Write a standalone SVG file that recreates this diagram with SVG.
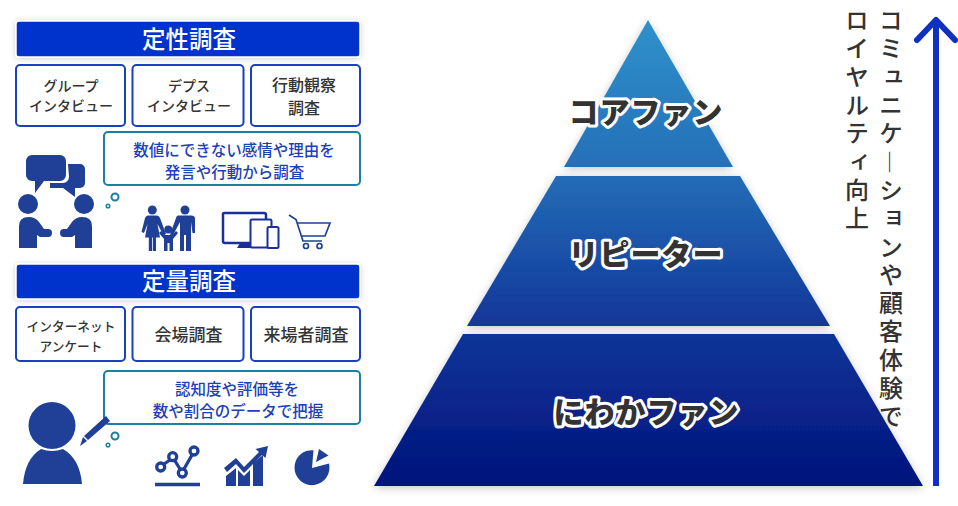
<svg xmlns="http://www.w3.org/2000/svg" width="958" height="506" viewBox="0 0 958 506">
<style>
text{font-family:"Noto Sans CJK JP","Noto Sans",sans-serif;text-anchor:middle}
.hd{fill:#0033cc;stroke:#fff;stroke-width:1.5;filter:url(#s)}
.hdt{fill:#fff;font-size:23.5px;font-weight:500}
.bx{fill:#fff;stroke:#1a3fc0;stroke-width:2}
.bt{fill:#333;font-weight:500}
.sb{fill:#fff;stroke:#1a7fa0;stroke-width:2}
.st{fill:#1c40b8;font-size:15.5px;font-weight:500}
.ic{fill:#1f4096}
.ring{fill:none;stroke:#1a7fa0}
.pl{font-size:30px;font-weight:900;fill:#333;stroke:#fff;stroke-width:6px;stroke-linejoin:round;paint-order:stroke fill}
.vt{font-size:24px;font-weight:500;fill:#333;writing-mode:vertical-rl;text-anchor:start;letter-spacing:4.3px}
</style>
<defs>
<filter id="s" x="-10%" y="-20%" width="120%" height="150%"><feDropShadow dx="0" dy="1" stdDeviation="3" flood-color="#000" flood-opacity=".18"/></filter>
<filter id="p" x="-10%" y="-10%" width="120%" height="120%"><feDropShadow dx="0" dy="2" stdDeviation="4" flood-color="#000" flood-opacity=".22"/></filter>
<linearGradient id="g" gradientUnits="userSpaceOnUse" x1="0" y1="20" x2="0" y2="486">
<stop offset="0" stop-color="#3091cb"/><stop offset=".32" stop-color="#246fb8"/><stop offset=".65" stop-color="#12379a"/><stop offset="1" stop-color="#00137c"/>
</linearGradient>
</defs>
<g id="pyramid">
<g id="tier-core"><path d="M648 20L733 167H564Z" fill="url(#g)" filter="url(#p)"/><text class="pl" x="646" y="123" letter-spacing="1">コアファン</text></g>
<g id="tier-repeater"><path d="M556 176H740L830 326H467Z" fill="url(#g)" filter="url(#p)"/><text class="pl" x="646" y="265" letter-spacing="1">リピーター</text></g>
<g id="tier-casual"><path d="M463 334H834L923 486H374Z" fill="url(#g)" filter="url(#p)"/><text class="pl" x="646.5" y="423" letter-spacing="1">にわかファン</text></g>
</g>
<g id="labels-vertical">
<text class="vt" x="891" y="8">コミュニケ<tspan font-weight="300">―</tspan>ションや顧客体験で</text>
<text class="vt" x="857" y="8">ロイヤルティ向上</text>
</g>
<g id="connectors">
<path d="M936 486V20" fill="none" stroke="#1030c0" stroke-width="6"/>
<path d="M917 40L936 20L955 40" fill="none" stroke="#1030c0" stroke-width="6" stroke-linecap="round" stroke-linejoin="round"/>
</g>
<g id="qual-head"><rect class="hd" x="16" y="21" width="344" height="36" rx="3"/><text class="hdt" x="189" y="47.500">定性調査</text></g>
<g id="qual-group"><rect class="bx" x="16" y="65" width="109" height="61" rx="4"/><text class="bt" font-size="14" x="71" y="91">グループ</text><text class="bt" font-size="14" x="71" y="111">インタビュー</text></g>
<g id="qual-depth"><rect class="bx" x="132.500" y="65" width="111" height="61" rx="4"/><text class="bt" font-size="14" x="189" y="91">デプス</text><text class="bt" font-size="14" x="189" y="111">インタビュー</text></g>
<g id="qual-obs"><rect class="bx" x="251" y="65" width="109" height="61" rx="4"/><text class="bt" font-size="16" x="304" y="91">行動観察</text><text class="bt" font-size="16" x="304" y="114">調査</text></g>
<g id="qual-note"><rect class="sb" x="104" y="132" width="256" height="53" rx="4"/><text class="st" x="234" y="156">数値にできない感情や理由を</text><text class="st" x="234.500" y="178">発言や行動から調査</text></g>
<g id="qual-people" class="ic">
<path d="M31 155H60a6 6 0 0 1 6 6V175a6 6 0 0 1-6 6H44L35 193V181H32a6 6 0 0 1-6-6V161a6 6 0 0 1 6-6Z"/>
<path d="M68 164H80a5 5 0 0 1 5 5V183a5 5 0 0 1-5 5H75V197L63 188H50V183H63a6 6 0 0 0 6-6Z"/>
<circle cx="28" cy="204" r="10"/><circle cx="84" cy="204" r="10"/>
<path d="M19 248V226Q19 217 29 217Q35 217 39 222L44 229H48a3.800 3.800 0 0 1 0 8H40L37 235V248Z"/>
<path d="M92 248V226Q92 217 82 217Q76 217 72 222L67 229H64a3.800 3.800 0 0 0 0 8H72L75 235V248Z"/>
</g>
<g id="qual-bubbles" class="ring"><circle cx="115" cy="197" r="3.500" stroke-width="2"/><circle cx="108" cy="206" r="1.800" stroke-width="1.500"/></g>
<g id="qual-family" class="ic">
<circle cx="152.300" cy="210" r="4.500"/><circle cx="185" cy="210" r="4.500"/><circle cx="168.300" cy="229.500" r="4"/>
<path d="M148 215.500H157Q159 215.500 160 218L166 234L163.500 235.500L157.500 224L160 237.500H156V251H152.800V237.500H152V251H148.800V237.500H145L147.500 224L144 233L141.500 232L145 218Q146 215.500 148 215.500Z"/>
<path d="M178 215.500H192Q194.500 215.500 195 218V233H192.500L191 222V251H186V235H184V251H180V222L172.500 236L170 234.500L176 218Q176.500 215.500 178 215.500Z"/>
<path d="M165 235H172L176 231L178 233L173 239V251H169.500V243H167.500V251H164V239L159 233L161 231Z"/>
</g>
<g id="qual-devices" fill="none" stroke="#1a2f9a" stroke-width="2">
<path d="M250 243H225Q223 243 223 241V214Q223 213 225 213H264Q266 213 266 215V219" stroke-width="2.500"/>
<path d="M237 248L240 243H250V248Z" fill="#1a2f9a" stroke="none"/>
<rect x="250.500" y="219.500" width="21" height="28" rx="1.500" fill="#fff"/>
<rect x="267.500" y="227" width="11" height="21" rx="1.500" fill="#fff"/>
</g>
<g id="qual-cart" fill="none" stroke="#1f4096" stroke-width="1.700">
<path d="M289 215L296 219.500L303 241H322M297 223H330L325 236H301"/>
<circle cx="306" cy="246" r="2.500"/><circle cx="319.500" cy="246" r="2.500"/>
</g>
<g id="quant-head"><rect class="hd" x="16" y="264" width="344" height="35" rx="3"/><text class="hdt" x="189" y="290">定量調査</text></g>
<g id="quant-net"><rect class="bx" x="16" y="307" width="109" height="54" rx="4"/><text class="bt" font-size="12.700" x="71" y="331">インターネット</text><text class="bt" font-size="12.700" x="71" y="351">アンケート</text></g>
<g id="quant-venue"><rect class="bx" x="132.500" y="307" width="111" height="54" rx="4"/><text class="bt" font-size="17" x="188.500" y="341">会場調査</text></g>
<g id="quant-visitor"><rect class="bx" x="251" y="307" width="109" height="54" rx="4"/><text class="bt" font-size="17" x="306" y="341">来場者調査</text></g>
<g id="quant-note"><rect class="sb" x="104" y="371" width="256" height="53" rx="4"/><text class="st" x="237" y="395">認知度や評価等を</text><text class="st" x="238" y="417">数や割合のデータで把握</text></g>
<g id="quant-person" class="ic">
<circle cx="52" cy="425.500" r="23.500"/>
<path d="M23 484Q25 459 41 449Q52 453 63 449Q80 459 82 484Z"/>
<path d="M106 416L110 421L88 440L84 436Z"/><path d="M83 437L87 441L80 446Z"/>
</g>
<g id="quant-bubbles" class="ring"><circle cx="115" cy="436" r="3.500" stroke-width="2"/><circle cx="108" cy="445" r="1.800" stroke-width="1.500"/></g>
<g id="quant-line" fill="none" stroke="#1f4096" stroke-width="3.300">
<path d="M164 464L170 460M175 461L180 469M184 469L192 455"/>
<circle cx="160.700" cy="467" r="4"/><circle cx="172.700" cy="456.700" r="4"/><circle cx="182.300" cy="473" r="4"/><circle cx="194" cy="451" r="4"/>
<path d="M155 484.500H200"/>
</g>
<g id="quant-bars" class="ic">
<path d="M226 486V476L236 468V486ZM238 486V470L244 476L250 470V486ZM253 486V463L263 455V486Z"/>
<path d="M224 468L236 458L244 467L259 452L255.500 449L268 446L265.500 458L262 455L244 473L236 464L227 472Z"/>
</g>
<g id="quant-pie" class="ic">
<path d="M312 468L313.500 450.200A17.500 17.500 0 1 0 329 463.500Z"/>
<path d="M319 449L328.500 455.500L316 462Z"/>
</g>
</svg>
